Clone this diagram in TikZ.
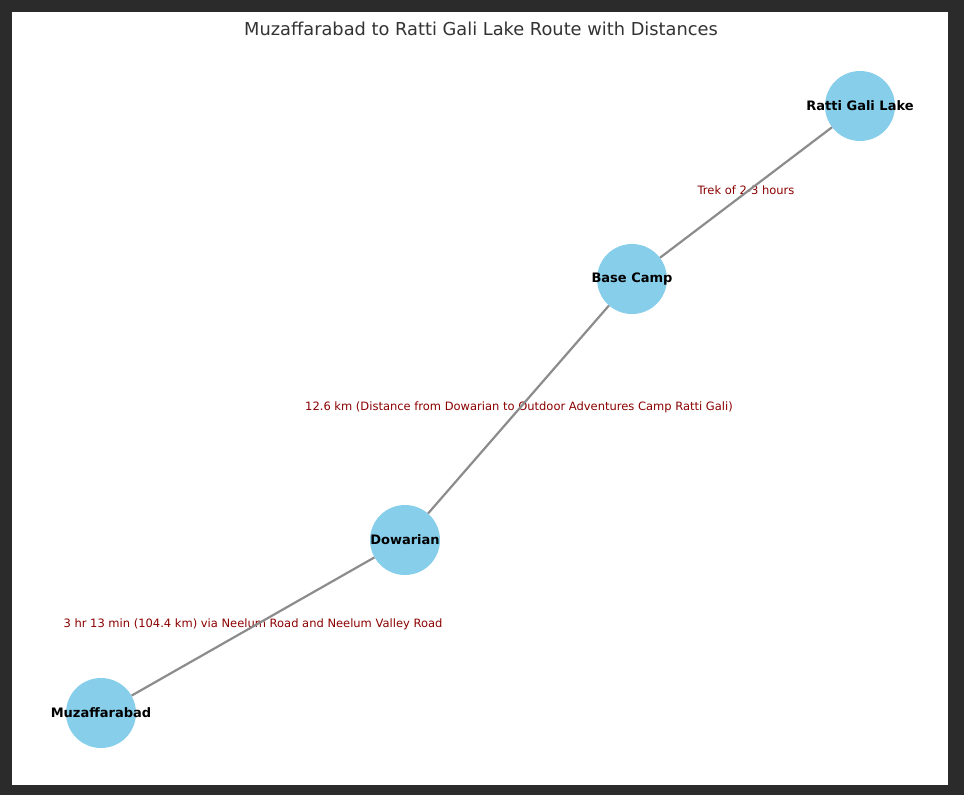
\documentclass[tikz,border=0pt]{standalone}
\usepackage{fontspec}
\setmainfont{DejaVu Sans}
\definecolor{skyblue}{RGB}{135,206,235}
\definecolor{labelred}{RGB}{139,0,0}
\definecolor{framegray}{RGB}{43,43,43}
\newcommand{\placename}[1]{\makebox[0pt]{\raisebox{-1.5pt}{#1}}}
\begin{document}
\begin{tikzpicture}[x=1pt, y=-1pt,
		place/.style={circle, fill=skyblue, minimum size=70pt, inner sep=0pt, font=\fontsize{13}{14}\selectfont\bfseries},
		dist/.style={text=labelred, font=\fontsize{11.5}{13}\selectfont, yshift=-1pt},
		route/.style={draw=gray!90, line width=2.2pt}]
		\useasboundingbox (0,0) rectangle (964,795);
		\fill[framegray] (0,0) rectangle (964,795);
		\fill[white] (12,12) rectangle (948,785);
		\node[text=black!80, font=\fontsize{17.8}{20}\selectfont] (title) at (481,29) {Muzaffarabad to Ratti Gali Lake Route with Distances};
		\node[place] (muzaffarabad) at (101,713) {\placename{Muzaffarabad}};
		\node[place] (dowarian) at (405,540) {\placename{Dowarian}};
		\node[place] (basecamp) at (632,279) {\placename{Base Camp}};
		\node[place] (lake) at (860,106) {\placename{Ratti Gali Lake}};
		\node[dist] (road) at (253,623) {3 hr 13 min (104.4 km) via Neelum Road and Neelum Valley Road};
		\node[dist] (camp) at (519,406) {12.6 km (Distance from Dowarian to Outdoor Adventures Camp Ratti Gali)};
		\node[dist] (trek) at (746,189) {Trek of 2-3 hours};
		\draw[route] (muzaffarabad) -- (dowarian);
		\draw[route] (dowarian) -- (basecamp);
		\draw[route] (basecamp) -- (lake);
	\end{tikzpicture}
\end{document}
